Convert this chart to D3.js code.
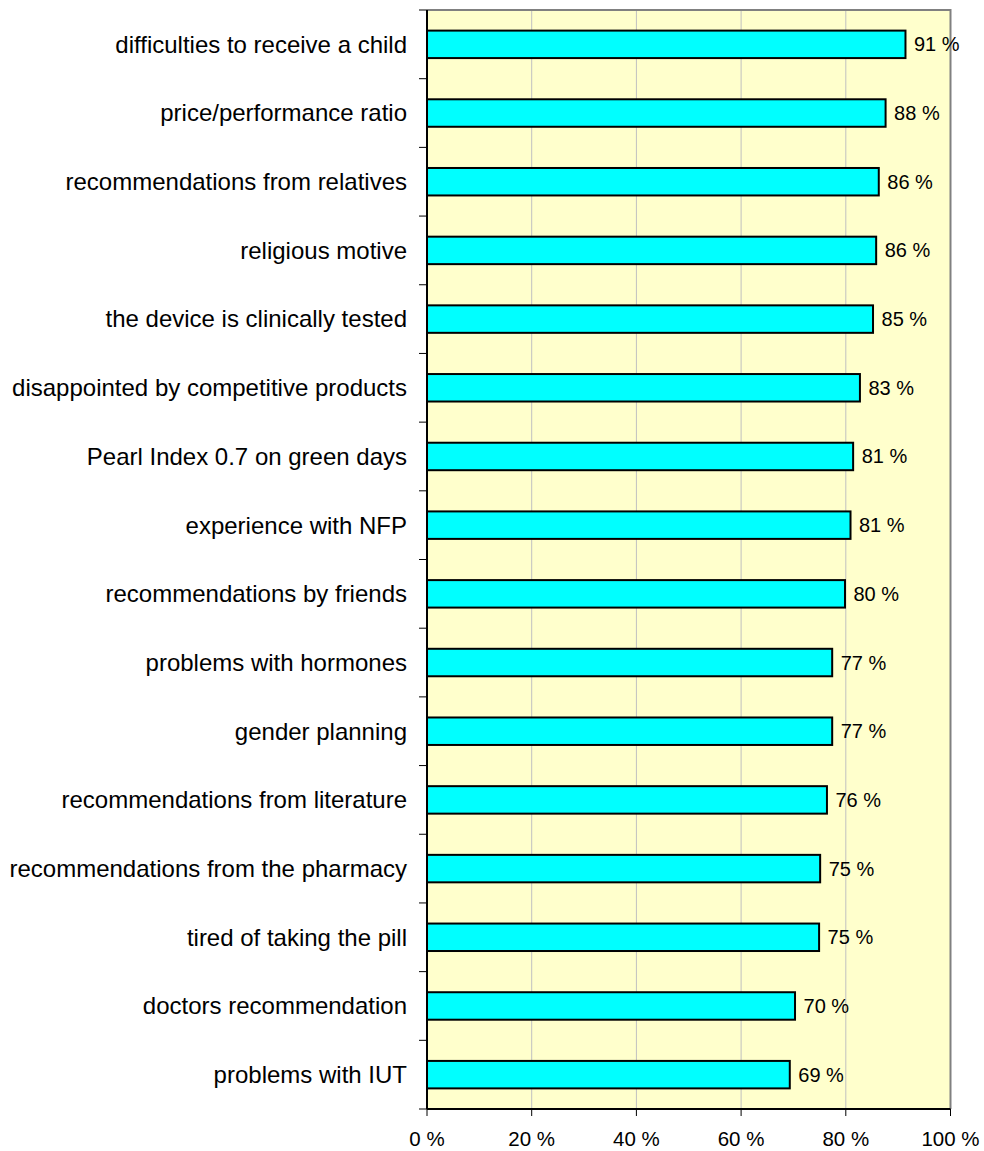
<!DOCTYPE html>
<html>
<head>
<meta charset="utf-8">
<script src="https://cdn.jsdelivr.net/npm/d3@7"></script>
<style>
  html, body { margin: 0; padding: 0; background: #ffffff; }
  svg { display: block; }
</style>
</head>
<body>
<svg id="chart" width="984" height="1151"></svg>
<script>
const categories = [
  "difficulties to receive a child",
  "price/performance ratio",
  "recommendations from relatives",
  "religious motive",
  "the device is clinically tested",
  "disappointed by competitive products",
  "Pearl Index 0.7 on green days",
  "experience with NFP",
  "recommendations by friends",
  "problems with hormones",
  "gender planning",
  "recommendations from literature",
  "recommendations from the pharmacy",
  "tired of taking the pill",
  "doctors recommendation",
  "problems with IUT"
];
const values = [91.4, 87.6, 86.3, 85.8, 85.2, 82.7, 81.4, 80.9, 79.85, 77.4, 77.4, 76.4, 75.1, 74.9, 70.3, 69.3];
const valueLabels = ["91 %", "88 %", "86 %", "86 %", "85 %", "83 %", "81 %", "81 %", "80 %", "77 %", "77 %", "76 %", "75 %", "75 %", "70 %", "69 %"];
const xTicks = [0, 20, 40, 60, 80, 100];
const xTickLabels = ["0 %", "20 %", "40 %", "60 %", "80 %", "100 %"];

(function () {
const svg = d3.select("#chart");
const pL = 427, pR = 950.5, pT = 10, pB = 1109;
const font = "Arial, 'Liberation Sans', sans-serif";

const x = d3.scaleLinear().domain([0, 100]).range([pL, pR]);
const y = d3.scaleBand().domain(categories).range([pT, pB]).paddingInner(0.6).paddingOuter(0.3);
const yBand = d3.scaleBand().domain(categories).range([pT, pB]);

// background
svg.append("rect").attr("x", pL).attr("y", pT).attr("width", pR - pL).attr("height", pB - pT)
  .attr("fill", "#FFFFCC");

// gridlines
svg.append("g").selectAll("line").data(xTicks.slice(1, -1)).join("line")
  .attr("x1", d => x(d)).attr("x2", d => x(d)).attr("y1", pT).attr("y2", pB)
  .attr("stroke", "#c0c0c0").attr("stroke-width", 1);

// top & right border
svg.append("path")
  .attr("d", `M${pL},${pT}H${pR}V${pB}`)
  .attr("fill", "none").attr("stroke", "#808080").attr("stroke-width", 2);

// bars
svg.append("g").selectAll("rect").data(categories).join("rect")
  .attr("x", x(0))
  .attr("y", d => y(d))
  .attr("width", (d, i) => x(values[i]) - x(0))
  .attr("height", y.bandwidth())
  .attr("fill", "#00FFFF").attr("stroke", "#000").attr("stroke-width", 2);

// value labels
svg.append("g").selectAll("text").data(categories).join("text")
  .attr("x", (d, i) => x(values[i]) + 8.5)
  .attr("y", d => y(d) + y.bandwidth() / 2)
  .attr("dy", "0.35em")
  .attr("font-family", font).attr("font-size", 20).attr("fill", "#000")
  .text((d, i) => valueLabels[i]);

// y axis
const yAxis = svg.append("g").attr("transform", `translate(${pL},0)`);
yAxis.append("line").attr("x1", 0).attr("x2", 0).attr("y1", pT).attr("y2", pB).attr("stroke", "#000").attr("stroke-width", 2);
const boundaries = categories.map(c => yBand(c)).concat([pB]);
yAxis.selectAll("line.tick").data(boundaries).join("line").attr("class", "tick")
  .attr("x1", -8).attr("x2", 0).attr("y1", d => d).attr("y2", d => d)
  .attr("stroke", "#000").attr("stroke-width", 1);
yAxis.selectAll("text").data(categories).join("text")
  .attr("x", -20)
  .attr("y", d => yBand(d) + yBand.bandwidth() / 2)
  .attr("dy", "0.35em")
  .attr("text-anchor", "end")
  .attr("font-family", font).attr("font-size", 24).attr("fill", "#000")
  .text(d => d);

// x axis
const xAxis = svg.append("g").attr("transform", `translate(0,${pB})`);
xAxis.append("line").attr("x1", pL).attr("x2", pR).attr("stroke", "#000").attr("stroke-width", 2);
xAxis.selectAll("line.tick").data(xTicks).join("line").attr("class", "tick")
  .attr("x1", d => x(d)).attr("x2", d => x(d)).attr("y1", 0).attr("y2", 7)
  .attr("stroke", "#000").attr("stroke-width", 1);
xAxis.selectAll("text").data(xTicks).join("text")
  .attr("x", d => x(d))
  .attr("y", 30)
  .attr("dy", "0.35em")
  .attr("text-anchor", "middle")
  .attr("font-family", font).attr("font-size", 20.5).attr("fill", "#000")
  .text((d, i) => xTickLabels[i]);
})();
</script>
</body>
</html>
